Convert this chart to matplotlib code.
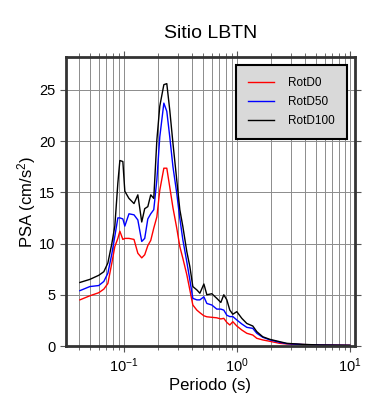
import numpy as np
import matplotlib
matplotlib.use('Agg')
import matplotlib.pyplot as plt

plt.rcParams['font.family'] = ['Liberation Sans', 'DejaVu Sans']
plt.rcParams['mathtext.default'] = 'regular'

# periodos (s) y PSA (cm/s^2)
periodo = [0.0408, 0.050, 0.060, 0.0665, 0.0722, 0.0783, 0.0832, 0.0885, 0.0922, 0.098,
           0.102, 0.111, 0.123, 0.133, 0.144, 0.153, 0.163, 0.173, 0.184, 0.196,
           0.208, 0.226, 0.240, 0.255, 0.272, 0.294, 0.313, 0.333, 0.361, 0.384,
           0.408, 0.443, 0.471, 0.511, 0.543, 0.601, 0.665, 0.722, 0.767, 0.816,
           0.867, 0.922, 1.0, 1.107, 1.226, 1.385, 1.503, 1.698, 1.959, 2.40,
           2.77, 3.84, 5.43, 10.0]

rotd100 = [6.2, 6.5, 6.9, 7.25, 8.1, 10.0, 11.7, 15.9, 18.1, 18.0,
           15.1, 14.4, 13.9, 14.75, 12.1, 13.4, 13.6, 14.75, 14.4, 20.1,
           23.4, 25.5, 25.6, 23.0, 19.8, 16.2, 13.3, 11.65, 9.2, 7.75,
           5.8, 5.47, 5.15, 6.05, 5.0, 5.1, 4.65, 4.25, 5.0, 4.5,
           3.5, 3.1, 3.35, 2.7, 2.2, 1.95, 1.4, 0.9, 0.65, 0.42,
           0.26, 0.16, 0.1, 0.07]

rotd50 = [5.4, 5.8, 5.9, 6.3, 7.1, 9.0, 10.7, 12.5, 12.5, 12.4,
          11.7, 12.9, 12.8, 12.3, 10.2, 10.5, 12.4, 12.9, 13.3, 16.2,
          20.4, 23.7, 22.9, 20.4, 17.5, 14.9, 12.45, 10.35, 8.2, 6.45,
          4.65, 4.5, 4.5, 4.8, 4.15, 4.0, 3.6, 3.6, 3.5, 3.0,
          2.87, 2.87, 2.54, 2.15, 1.82, 1.72, 1.24, 0.85, 0.6, 0.36,
          0.23, 0.14, 0.09, 0.06]

rotd0 = [4.5, 4.9, 5.2, 5.55, 6.1, 8.1, 9.7, 10.5, 11.2, 10.4,
         10.5, 10.5, 10.4, 9.05, 8.6, 8.9, 9.8, 10.3, 11.5, 12.6,
         15.2, 17.35, 17.35, 15.5, 13.5, 11.5, 9.7, 8.55, 6.95, 5.47,
         4.0, 3.5, 3.25, 2.95, 2.85, 2.8, 2.75, 2.64, 2.7, 2.3,
         2.05, 2.37, 1.95, 1.56, 1.24, 1.07, 0.75, 0.59, 0.46, 0.26,
         0.2, 0.14, 0.1, 0.07]

fig = plt.figure(figsize=(3.9, 4.0), dpi=100)
ax = fig.add_axes([0.169, 0.135, 0.741, 0.7225])

ax.plot(periodo, rotd0, color='red', lw=1.0, label='RotD0')
ax.plot(periodo, rotd50, color='blue', lw=1.0, label='RotD50')
ax.plot(periodo, rotd100, color='black', lw=1.0, label='RotD100')

ax.set_xscale('log')
ax.set_xlim(0.0307, 11.1)
ax.set_ylim(0, 28.2)
ax.set_yticks([0, 5, 10, 15, 20, 25])

ax.grid(True, which='major', axis='both', color='#8c8c8c', lw=0.7)
ax.grid(True, which='minor', axis='x', color='#8c8c8c', lw=0.7)
ax.set_axisbelow(True)

for s in ax.spines.values():
    s.set_color('#333333')
    s.set_linewidth(2)
ax.tick_params(which='both', direction='out', top=True, right=True,
               labelsize=10.5, color='#555555')
ax.tick_params(which='major', length=4)
ax.tick_params(which='minor', length=3)

ax.set_title('Sitio LBTN', fontsize=14, pad=14)
ax.set_xlabel('Periodo (s)', fontsize=12, labelpad=2)
ax.set_ylabel('PSA (cm/s$^2$)', fontsize=12, labelpad=1)

leg = ax.legend(loc='upper right', fontsize=8.5, fancybox=False,
                borderpad=1.0, handlelength=2.2, handletextpad=1.2,
                labelspacing=0.6, borderaxespad=0,
                bbox_to_anchor=(0.972, 0.972))
leg.get_frame().set_facecolor('#d9d9d9')
leg.get_frame().set_edgecolor('black')
leg.get_frame().set_linewidth(1.5)
leg.get_frame().set_alpha(1)

fig.savefig('out.png', dpi=100)
